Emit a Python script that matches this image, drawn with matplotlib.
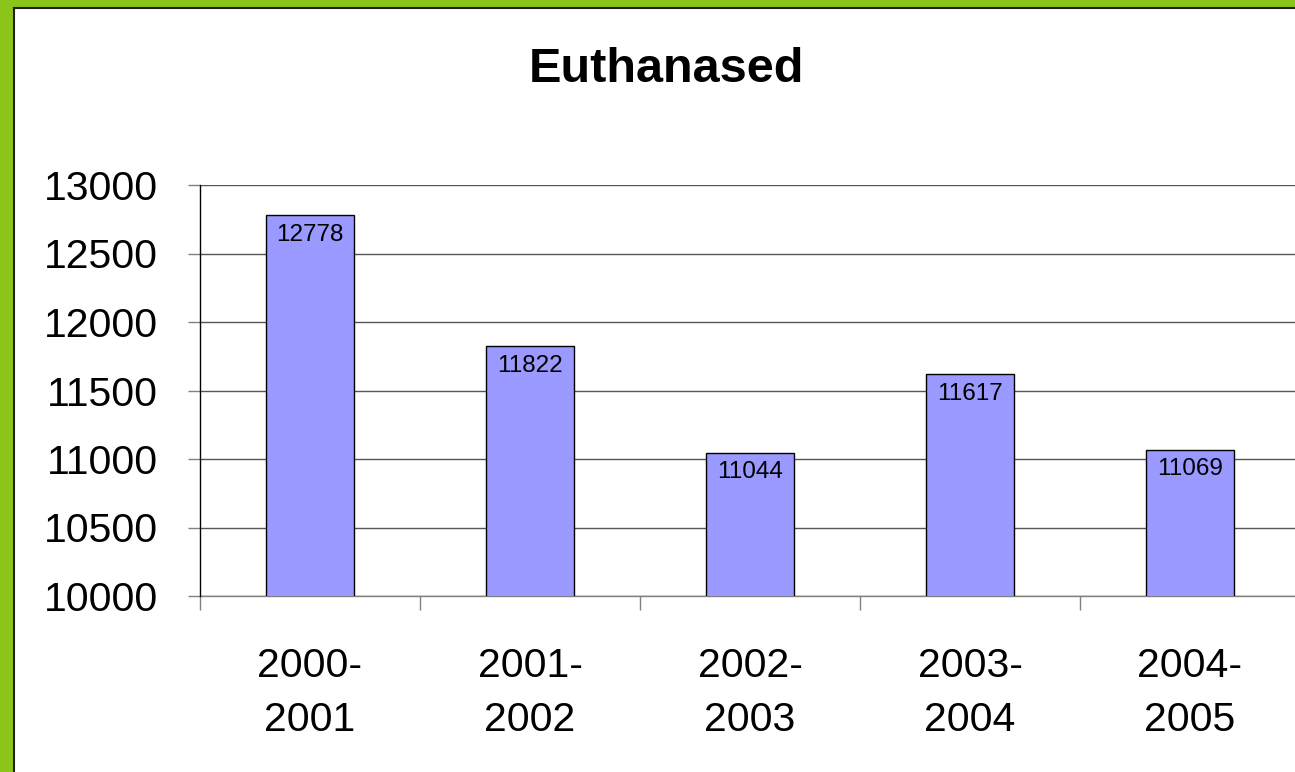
import matplotlib
matplotlib.use("Agg")
import matplotlib.pyplot as plt
from matplotlib.patches import Rectangle

plt.rcParams['font.family'] = ['Liberation Sans', 'DejaVu Sans']

periods = ["2000-\n2001", "2001-\n2002", "2002-\n2003", "2003-\n2004", "2004-\n2005"]
euthanased = [12778, 11822, 11044, 11617, 11069]
y_ticks = [10000, 10500, 11000, 11500, 12000, 12500, 13000]

W, H = 1295, 772
fig = plt.figure(figsize=(W / 100, H / 100), dpi=100)

# green frame with a thin dark edge (left and top only, the rest is cropped)
green = '#8cc51a'
fig.patches.append(Rectangle((0, 0), 13 / W, 1, transform=fig.transFigure, color=green, zorder=0))
fig.patches.append(Rectangle((0, 1 - 7 / H), 1, 7 / H, transform=fig.transFigure, color=green, zorder=0))
fig.add_artist(plt.Line2D([14 / W, 14 / W], [0, 1 - 8 / H], transform=fig.transFigure, color='#222222', lw=1.5))
fig.add_artist(plt.Line2D([14 / W, 1], [1 - 8 / H, 1 - 8 / H], transform=fig.transFigure, color='#222222', lw=1.5))

ax = fig.add_axes([200 / W, 176 / H, 1100 / W, 411 / H])
x = range(len(periods))
bars = ax.bar(x, euthanased, width=0.4, color='#9999ff', edgecolor='black', linewidth=1, zorder=3)

for rect, v in zip(bars, euthanased):
    ax.annotate(str(v), (rect.get_x() + rect.get_width() / 2, v), xytext=(0, -6),
                textcoords='offset points', ha='center', va='top', fontsize=17.5, zorder=4)

ax.set_xlim(-0.5, len(periods) - 0.5)
ax.set_ylim(10000, 13000)
ax.set_yticks(y_ticks)
ax.set_yticklabels([str(t) for t in y_ticks], fontsize=29.5)
ax.set_xticks(x)
ax.set_xticklabels(periods, fontsize=29.5, linespacing=1.52)
ax.tick_params(axis='x', length=0, pad=37)
ax.set_xticks([i - 0.5 for i in range(len(periods) + 1)], minor=True)
ax.tick_params(axis='x', which='minor', length=10, color='#808080', width=1)
ax.tick_params(axis='y', length=9, color='#808080', width=1, pad=21)

ax.yaxis.grid(True, color='#555555', linewidth=1, zorder=0)
for s in ['top', 'right']:
    ax.spines[s].set_visible(False)
ax.spines['left'].set_color('black')
ax.spines['left'].set_linewidth(1)
ax.spines['bottom'].set_color('#808080')
ax.spines['bottom'].set_linewidth(1)
ax.spines['left'].set_zorder(5)

fig.text(666 / W, 1 - 70 / H, "Euthanased", ha='center', va='center', fontsize=35, fontweight='bold')

fig.savefig("out.png", dpi=100)
